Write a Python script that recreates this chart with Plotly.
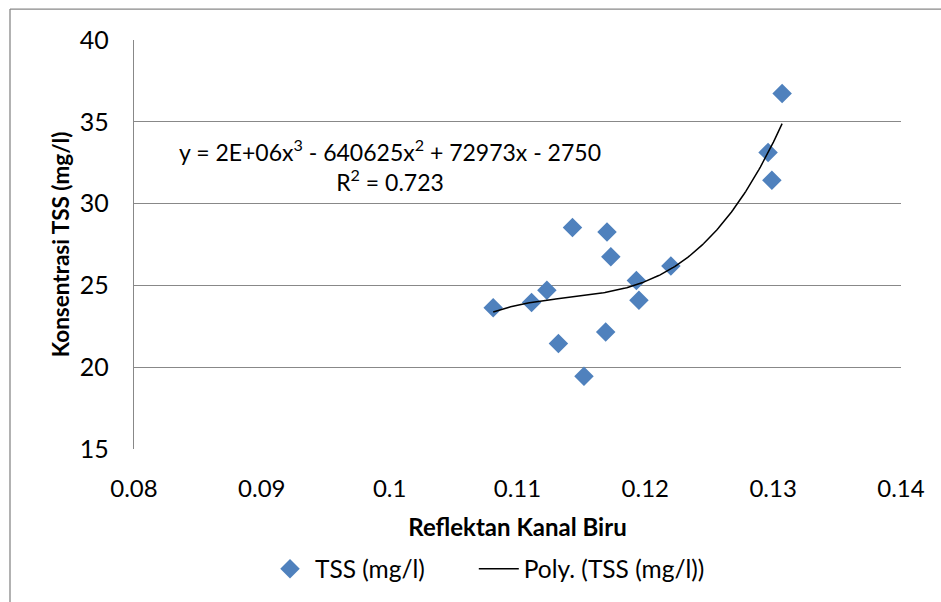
import numpy as np
import plotly.graph_objects as go

# Data
reflektan = [0.1081, 0.1111, 0.1123, 0.1132, 0.1143, 0.1152, 0.1169, 0.1170,
             0.1173, 0.1193, 0.1195, 0.1220, 0.1296, 0.1299, 0.1307]
tss = [23.64, 23.95, 24.70, 21.45, 28.54, 19.45, 22.15, 28.27,
       26.75, 25.30, 24.09, 26.18, 33.13, 31.42, 36.73]

x_ticks = [0.08, 0.09, 0.10, 0.11, 0.12, 0.13, 0.14]
x_tick_text = ["0.08", "0.09", "0.1", "0.11", "0.12", "0.13", "0.14"]
y_ticks = [15, 20, 25, 30, 35, 40]

series_name = "TSS (mg/l)"
trend_name = "Poly. (TSS (mg/l))"
equation_text = "y = 2E+06x<sup>3</sup> - 640625x<sup>2</sup> + 72973x - 2750<br>R<sup>2</sup> = 0.723"

# Cubic trendline fitted to the data
coef = np.polyfit(reflektan, tss, 3)
xs = np.linspace(min(reflektan), max(reflektan), 200)
ys = np.polyval(coef, xs)

FONT = "Lato"
fig = go.Figure()
fig.add_trace(go.Scatter(
    x=reflektan, y=tss, mode="markers", name=series_name + "\u00a0" * 7,
    marker=dict(symbol="diamond", size=15, color="#4F81BD", line=dict(width=0)),
))
fig.add_trace(go.Scatter(
    x=xs, y=ys, mode="lines", name=trend_name,
    line=dict(color="black", width=1.5),
))

fig.update_layout(
    width=941, height=602,
    margin=dict(l=134, r=40, t=40, b=152),
    paper_bgcolor="white", plot_bgcolor="white",
    font=dict(family=FONT, size=24, color="black"),
    showlegend=True,
    legend=dict(orientation="h", x=(265 - 134) / 767, xanchor="left", y=-0.29, yanchor="middle",
                font=dict(size=24.5), itemwidth=40, traceorder="normal"),
    xaxis=dict(range=[0.08, 0.14], tickvals=x_ticks, ticktext=x_tick_text,
               showgrid=False, zeroline=False, showline=False,
               ticks="outside", ticklen=18, tickcolor="rgba(0,0,0,0)",
               tickfont=dict(size=24),
               title=dict(text="<b>Reflektan Kanal Biru</b>", font=dict(size=24), standoff=18)),
    yaxis=dict(range=[15, 40], tickvals=y_ticks,
               showgrid=True, gridcolor="#888888", gridwidth=1.3, zeroline=False,
               showline=True, linecolor="#888888", linewidth=1.3,
               ticks="outside", ticklen=19, tickcolor="rgba(0,0,0,0)",
               tickfont=dict(size=25),
               title=dict(text="<b>Konsentrasi TSS (mg/l)</b>", font=dict(size=22.5), standoff=3)),
    annotations=[dict(
        x=0.1, y=32.3, xref="x", yref="y", text=equation_text, showarrow=False,
        align="center", font=dict(size=23, color="black"),
    )],
    shapes=[
        dict(type="line", xref="paper", yref="paper", x0=(10 - 134) / 767, x1=(10 - 134) / 767,
             y0=(450 - 9) / 410, y1=(450 - 610) / 410, line=dict(color="#888888", width=1.3)),
        dict(type="line", xref="paper", yref="paper", x0=(10 - 134) / 767, x1=(950 - 134) / 767,
             y0=(450 - 9) / 410, y1=(450 - 9) / 410, line=dict(color="#888888", width=1.3)),
    ],
)

fig.write_html("out.html", config={"displayModeBar": False},
               post_script="document.body.style.margin='0';document.body.style.overflow='hidden';")
